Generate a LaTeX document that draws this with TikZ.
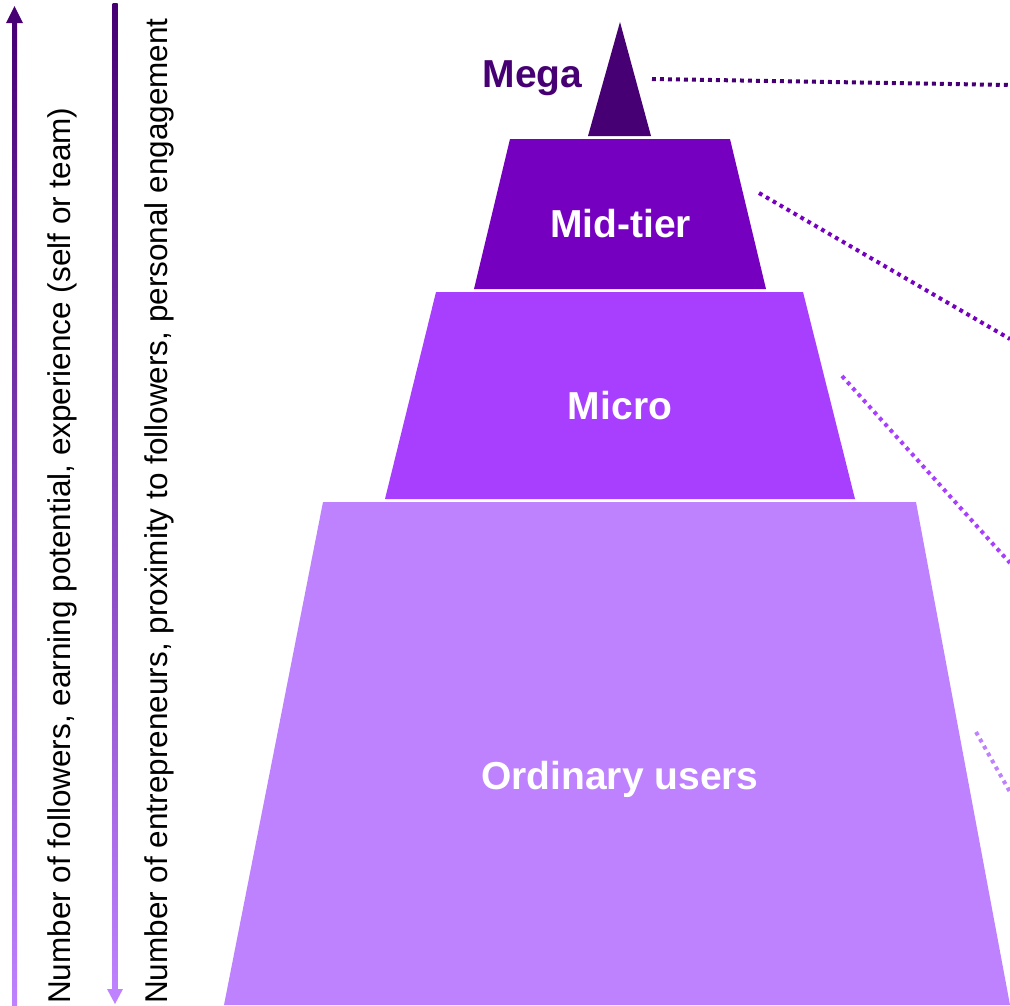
\documentclass[tikz,border=0pt]{standalone}
\usepackage{fontspec}
\setmainfont{Liberation Sans}
\usepackage{xcolor}
\usetikzlibrary{positioning}
\definecolor{megapurple}{HTML}{460073}
\definecolor{midpurple}{HTML}{7500C0}
\definecolor{micropurple}{HTML}{A83FFF}
\definecolor{userpurple}{HTML}{BE82FF}
\tikzstyle{tier} = [font=\fontsize{39}{39}\selectfont\bfseries, text=white, inner sep=0pt, anchor=base]
\tikzstyle{axistext} = [font=\fontsize{31.5}{32}\selectfont, rotate=90, anchor=base west, inner sep=0pt]
\tikzstyle{leader} = [line width=4pt, dash pattern=on 3.8pt off 4.2pt]

\begin{document}
\begin{tikzpicture}[x=1pt, y=-1pt]
\useasboundingbox (0,0) rectangle (1010,1005);

% pyramid layers
\fill[userpurple] (323,502) -- (916,502) -- (1010,1005) -- (224,1005) -- cycle;
\fill[micropurple] (436,292) -- (803,292) -- (855,499) -- (385,499) -- cycle;
\fill[midpurple] (510,139) -- (730,139) -- (766,289) -- (474,289) -- cycle;
\fill[megapurple] (620,22) -- (651,136) -- (588,136) -- cycle;

\node (mega) [tier, text=megapurple] at (532.5,87) {Mega};
\node (midtier) [tier] at (620.5,237) {Mid-tier};
\node (micro) [tier] at (620,419) {Micro};
\node (ordinary) [tier] at (620,789) {Ordinary users};

% leader lines
\coordinate (megastart) at (652,79);
\coordinate (megaend) at (1010,85);
\coordinate (midstart) at (759,193);
\coordinate (midend) at (1010,339);
\coordinate (microstart) at (842,376);
\coordinate (microend) at (1010,563);
\coordinate (userstart) at (976,732);
\coordinate (userend) at (1010,792);
\draw [leader, megapurple] (megastart) -- (megaend);
\draw [leader, midpurple] (midstart) -- (midend);
\draw [leader, micropurple] (microstart) -- (microend);
\draw [leader, userpurple] (userstart) -- (userend);

% axis arrows
\shade[bottom color=userpurple, middle color=micropurple, top color=megapurple] (12,1005) rectangle (17,20);
\fill[megapurple] (14.5,6) -- (23,23) -- (6,23) -- cycle;
\shade[top color=megapurple, middle color=micropurple, bottom color=userpurple] (112.5,3) rectangle (117.5,992);
\fill[userpurple] (115,1004) -- (123,989) -- (107,989) -- cycle;

\node (followers) [axistext] at (70,1004) {Number of followers, earning potential, experience (self or team)};
\node (entrepreneurs) [axistext] at (167,1004) {Number of entrepreneurs, proximity to followers, personal engagement};

\end{tikzpicture}
\end{document}
